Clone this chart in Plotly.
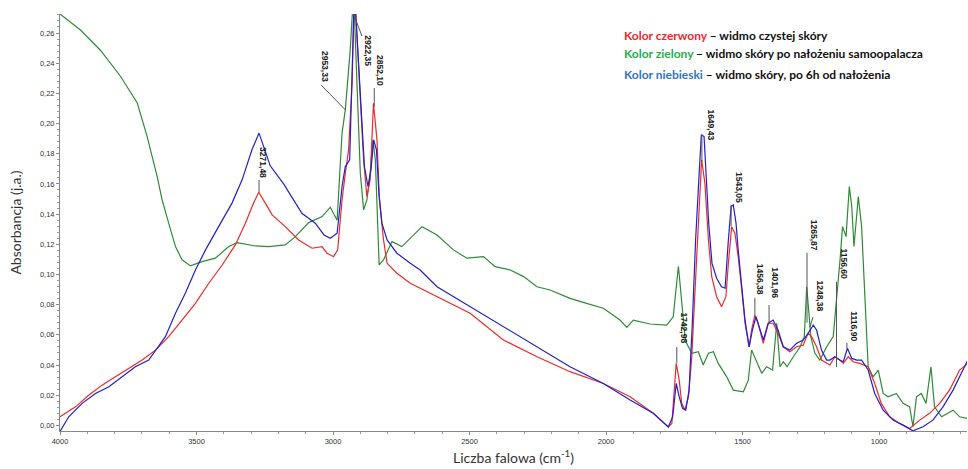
import plotly.graph_objects as go

# ---------------- data ----------------
red_x = [4000, 3943, 3894, 3846, 3797, 3748, 3699, 3650, 3602, 3553, 3504, 3455, 3406, 3358, 3321, 3291, 3272,
         3248, 3223, 3175, 3126, 3077, 3040, 3022, 2998, 2983, 2967, 2955, 2943, 2930, 2924, 2917, 2903, 2888,
         2876, 2864, 2852, 2839, 2830, 2815, 2802, 2766, 2717, 2619, 2498, 2376, 2253, 2132, 2010, 1912, 1827,
         1772, 1759, 1743, 1732, 1723, 1711, 1698, 1686, 1674, 1662, 1650, 1638, 1625, 1613, 1595, 1577, 1561,
         1552, 1540, 1528, 1516, 1503, 1491, 1476, 1467, 1455, 1443, 1424, 1406, 1388, 1370, 1351, 1327, 1302,
         1278, 1260, 1247, 1229, 1211, 1180, 1162, 1144, 1131, 1113, 1095, 1071, 1040, 1016, 992, 961, 925, 888,
         851, 815, 778, 742, 705, 675]
red_y = [0.0057, 0.0123, 0.0201, 0.0267, 0.0322, 0.0378, 0.0433, 0.0499, 0.0588, 0.0698, 0.0809, 0.0942, 0.1063,
         0.1196, 0.134, 0.1473, 0.1545, 0.1473, 0.1395, 0.1317, 0.1229, 0.1174, 0.1185, 0.1141, 0.1118, 0.1163,
         0.1494, 0.167, 0.1826, 0.2268, 0.2735, 0.2735, 0.2268, 0.176, 0.1517, 0.1627, 0.2135, 0.1892, 0.1494,
         0.1229, 0.1074, 0.1008, 0.0942, 0.0853, 0.0743, 0.0566, 0.0455, 0.0356, 0.0278, 0.019, 0.008, -0.001,
         0.0013, 0.0411, 0.03, 0.0146, 0.0101, 0.019, 0.0455, 0.0897, 0.1384, 0.176, 0.1605, 0.1229, 0.0986,
         0.0853, 0.0787, 0.0853, 0.1074, 0.1317, 0.1273, 0.1118, 0.0897, 0.0677, 0.0521, 0.0632, 0.0731, 0.0677,
         0.0544, 0.0677, 0.0677, 0.061, 0.0521, 0.0488, 0.0521, 0.0532, 0.061, 0.0588, 0.0521, 0.0433, 0.04,
         0.0455, 0.0433, 0.0411, 0.0455, 0.0422, 0.0411, 0.0389, 0.0278, 0.0146, 0.0057, 0.0013, -0.002, 0.0035,
         0.008, 0.0146, 0.0234, 0.0367, 0.0411]

green_x = [4000, 3925, 3852, 3778, 3717, 3681, 3644, 3626, 3602, 3577, 3553, 3522, 3480, 3431, 3382, 3351, 3284,
           3236, 3175, 3138, 3089, 3040, 3010, 2992, 2985, 2967, 2955, 2937, 2929, 2922, 2910, 2900, 2888, 2876,
           2864, 2854, 2845, 2837, 2831, 2815, 2784, 2748, 2705, 2674, 2619, 2559, 2510, 2449, 2406, 2351, 2302,
           2253, 2205, 2132, 2071, 2010, 1949, 1924, 1900, 1839, 1778, 1754, 1735, 1723, 1711, 1705, 1686, 1662,
           1644, 1625, 1607, 1589, 1558, 1534, 1497, 1479, 1467, 1451, 1430, 1412, 1390, 1375, 1363, 1351, 1337,
           1314, 1289, 1274, 1265, 1250, 1235, 1217, 1192, 1168, 1155, 1142, 1134, 1121, 1109, 1100, 1092, 1076,
           1064, 1051, 1040, 1022, 1003, 985, 967, 937, 912, 888, 876, 863, 845, 828, 810, 797, 771, 729, 705, 675]
green_y = [0.2726, 0.262, 0.2486, 0.2312, 0.2136, 0.1915, 0.1649, 0.1494, 0.134, 0.1185, 0.1097, 0.1057, 0.1085,
           0.1108, 0.1185, 0.1211, 0.1189, 0.1185, 0.1196, 0.1251, 0.1344, 0.1384, 0.1446, 0.138, 0.136, 0.1937,
           0.2091, 0.249, 0.2735, 0.2735, 0.2158, 0.167, 0.1428, 0.1494, 0.167, 0.1892, 0.176, 0.1275, 0.1063,
           0.1097, 0.1218, 0.1185, 0.1262, 0.1317, 0.1262, 0.1163, 0.1108, 0.1119, 0.1052, 0.103, 0.0986, 0.0919,
           0.0897, 0.0842, 0.0809, 0.0776, 0.0698, 0.065, 0.0698, 0.0672, 0.0665, 0.072, 0.1055, 0.0809, 0.0588,
           0.0544, 0.0478, 0.0488, 0.04, 0.0478, 0.0488, 0.0411, 0.0322, 0.0234, 0.0223, 0.03, 0.05, 0.0433,
           0.0345, 0.0389, 0.0367, 0.0677, 0.0389, 0.0422, 0.0389, 0.0455, 0.0521, 0.0588, 0.0919, 0.0588, 0.0478,
           0.0433, 0.0521, 0.0588, 0.0831, 0.1118, 0.1317, 0.1251, 0.1583, 0.145, 0.1185, 0.1517, 0.1317, 0.0787,
           0.0389, 0.0322, 0.0367, 0.0212, 0.019, 0.0212, 0.0146, 0.0123, -0.0009, 0.019, 0.0212, 0.0146, 0.0389,
           0.0123, 0.0057, 0.0101, 0.0057, 0.0046]

blue_x = [4000, 3968, 3919, 3870, 3821, 3772, 3724, 3675, 3650, 3614, 3577, 3541, 3504, 3467, 3419, 3370, 3333,
          3297, 3271, 3230, 3181, 3114, 3065, 3033, 3010, 2985, 2967, 2955, 2939, 2930, 2924, 2917, 2900, 2885,
          2872, 2861, 2851, 2841, 2832, 2821, 2802, 2766, 2717, 2681, 2619, 2498, 2376, 2253, 2132, 2010, 1912,
          1827, 1772, 1756, 1743, 1732, 1720, 1708, 1696, 1684, 1672, 1659, 1651, 1641, 1633, 1624, 1612, 1595,
          1577, 1564, 1552, 1542, 1534, 1524, 1516, 1503, 1491, 1476, 1464, 1451, 1436, 1424, 1406, 1388, 1370,
          1351, 1327, 1302, 1278, 1260, 1241, 1229, 1211, 1192, 1180, 1162, 1144, 1131, 1116, 1100, 1082, 1064,
          1040, 1016, 985, 949, 912, 876, 839, 803, 766, 729, 693, 675]
blue_y = [-0.004, 0.0057, 0.0146, 0.0212, 0.0256, 0.0322, 0.0389, 0.0433, 0.0499, 0.0588, 0.0743, 0.0875, 0.103,
          0.1163, 0.1317, 0.1473, 0.1627, 0.1826, 0.1937, 0.172, 0.16, 0.1406, 0.134, 0.1262, 0.124, 0.1273,
          0.1583, 0.1715, 0.176, 0.2268, 0.2735, 0.2735, 0.2158, 0.1715, 0.1583, 0.1693, 0.1892, 0.1826, 0.1539,
          0.134, 0.1229, 0.1141, 0.1074, 0.103, 0.0919, 0.0787, 0.0654, 0.0521, 0.0389, 0.0278, 0.0168, 0.008,
          -0.001, 0.0057, 0.0278, 0.019, 0.0113, 0.0101, 0.0234, 0.0677, 0.1229, 0.167, 0.1926, 0.1914, 0.167,
          0.134, 0.1074, 0.0975, 0.0919, 0.0909, 0.1229, 0.145, 0.1461, 0.134, 0.1163, 0.0942, 0.0698, 0.0521,
          0.0632, 0.072, 0.0632, 0.0566, 0.0677, 0.0698, 0.0632, 0.0521, 0.0499, 0.0544, 0.0566, 0.061, 0.0665,
          0.0632, 0.0499, 0.0433, 0.0433, 0.0455, 0.0433, 0.0422, 0.0511, 0.0444, 0.0433, 0.0433, 0.0367, 0.0212,
          0.0101, 0.0035, 0.0002, -0.0036, -0.0009, 0.0035, 0.0123, 0.0234, 0.0367, 0.0433]

# peak labels: text, leader start (x, y), leader end (x, y), text centre x, text bottom y
peak_labels = ["3271,48", "2953,33", "2922,35", "2852,10", "1649,43", "1543,05", "1456,38",
               "1401,96", "1265,87", "1248,38", "1156,60", "1116,90", "1742,98"]
lead_x0 = [3271, 2955, 2925, 2849, 1649, 1542, 1455, 1403, 1264, 1253, 1156, 1118, 1741]
lead_y0 = [0.1545, 0.2091, 0.2726, 0.211, 0.1745, 0.132, 0.0731, 0.0685, 0.068, 0.0652, 0.0387, 0.051, 0.0413]
lead_x1 = [3271, 3044, 2894, 2849, 1649, 1542, 1455, 1403, 1264, 1242, 1156, 1118, 1741]
lead_y1 = [0.1626, 0.2256, 0.258, 0.2236, 0.1925, 0.146, 0.0845, 0.0798, 0.1143, 0.0718, 0.0951, 0.0546, 0.052]
text_x = [3255, 3032, 2875, 2830, 1619, 1511, 1433, 1380, 1240, 1220, 1129, 1093, 1718]
text_y = [0.1626, 0.2264, 0.2369, 0.2236, 0.1878, 0.146, 0.085, 0.0831, 0.1143, 0.0745, 0.0951, 0.0546, 0.0533]

legend_lines = [
    ("Kolor czerwony", "#f5262b", " – widmo czystej skóry"),
    ("Kolor zielony", "#22b04c", " – widmo skóry po nałożeniu samoopalacza"),
    ("Kolor niebieski", "#2f74cc", " – widmo skóry, po 6h od nałożenia"),
]

# ---------------- figure ----------------
fig = go.Figure()
fig.add_trace(go.Scatter(x=green_x, y=green_y, mode="lines", line=dict(color="#2e8b35", width=1.2),
                         showlegend=False, hoverinfo="skip"))
fig.add_trace(go.Scatter(x=red_x, y=red_y, mode="lines", line=dict(color="#ee2a2a", width=1.2),
                         showlegend=False, hoverinfo="skip"))
fig.add_trace(go.Scatter(x=blue_x, y=blue_y, mode="lines", line=dict(color="#2020d0", width=1.2),
                         showlegend=False, hoverinfo="skip"))

shapes = []
annotations = []
for i, lab in enumerate(peak_labels):
    shapes.append(dict(type="line", xref="x", yref="y", x0=lead_x0[i], y0=lead_y0[i],
                       x1=lead_x1[i], y1=lead_y1[i], line=dict(color="#555555", width=1)))
    annotations.append(dict(x=text_x[i], y=text_y[i], xref="x", yref="y", text=f"<b>{lab}</b>",
                            showarrow=False, textangle=90, xanchor="center", yanchor="bottom",
                            font=dict(family="Liberation Sans Narrow, Liberation Sans", size=8.5,
                                      color="#1a1a1a")))

leg_y = [35, 54, 74]
for (name, col, rest), yy in zip(legend_lines, leg_y):
    annotations.append(dict(
        xref="paper", yref="paper", x=(622 - 59.5) / (967 - 59.5), y=(431 - yy) / (431 - 14),
        xanchor="left", yanchor="middle", showarrow=False,
        text=f"<b><span style='color:{col}'>{name}</span><span style='color:#111111'>{rest}</span></b>",
        font=dict(family="Lato", size=12)))

fig.update_layout(
    width=968, height=469,
    margin=dict(l=59.5, r=1, t=14, b=38),
    paper_bgcolor="white", plot_bgcolor="white",
    separators=", ",
    shapes=shapes, annotations=annotations,
    xaxis=dict(range=[4000, 678], autorange=False, showgrid=False, zeroline=False,
               showline=True, linecolor="#888888", linewidth=1,
               ticks="outside", ticklen=3, tickcolor="#888888", dtick=500, tick0=0,
               minor=dict(ticks="outside", ticklen=2, dtick=100, tickcolor="#999999"),
               tickfont=dict(family="Liberation Sans", size=7.5, color="#333333"),
               title=dict(text="Liczba falowa (cm<sup>-1</sup>)", standoff=8,
                          font=dict(family="Lato", size=14, color="#333333"))),
    yaxis=dict(range=[-0.0037, 0.2726], autorange=False, showgrid=False, zeroline=False,
               showline=True, linecolor="#888888", linewidth=1,
               ticks="outside", ticklen=3, tickcolor="#888888", dtick=0.02, tick0=0, tickformat=".2f",
               minor=dict(ticks="outside", ticklen=2, dtick=0.004, tickcolor="#999999"),
               tickfont=dict(family="Liberation Sans", size=7.5, color="#333333"),
               title=dict(text="Absorbancja (j.a.)", standoff=14,
                          font=dict(family="Lato", size=14, color="#333333"))),
)
fig.write_html("out.html")
